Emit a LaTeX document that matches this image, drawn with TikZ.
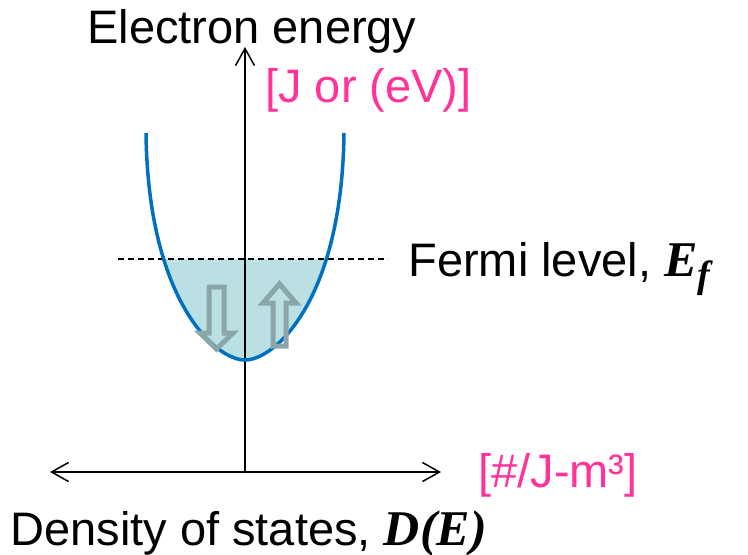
\documentclass[tikz,border=0pt]{standalone}
\usepackage{fontspec}
\setmainfont{Liberation Sans}
\newfontfamily\serifbi{Liberation Serif}
\usetikzlibrary{arrows.meta}
\definecolor{unitpink}{RGB}{255,51,153}
\definecolor{bandblue}{RGB}{0,112,192}
\definecolor{seateal}{RGB}{187,224,227}
\definecolor{spingray}{RGB}{138,166,168}
\newcommand{\bfit}[1]{{\serifbi\fontsize{25}{28}\selectfont\bfseries\itshape #1}}
\tikzset{
    lbl/.style={font=\fontsize{23.5}{28}\selectfont, inner sep=0pt, anchor=base west},
    unit/.style={lbl, text=unitpink},
    spin/.style={draw=spingray, line width=2.5pt, line join=miter},
    axis/.style={line width=0.75pt, {Straight Barb[length=8.5pt,width=9.5pt]}-{Straight Barb[length=8.5pt,width=9.5pt]}},
}
\begin{document}
\begin{tikzpicture}[x=0.5pt,y=-0.5pt]
        \useasboundingbox (0,0) rectangle (748,554);
        \coordinate (origin) at (245,472);
        \coordinate (etop) at (245,47);
        \coordinate (dleft) at (50,472);
        \coordinate (dright) at (441,472);
        \coordinate (fleft) at (118,259);
        \coordinate (fright) at (388,259);
        \begin{scope}
            \clip (100,259) rectangle (400,400);
            \fill [seateal] (146,133) .. controls (148,300) and (215,360) .. (245,360)
                .. controls (275,360) and (342,300) .. (344,133);
        \end{scope}
        \draw [line width=0.75pt, dash pattern=on 3pt off 2pt] (fleft) -- (fright);
        \draw [axis, {Straight Barb[length=8.5pt,width=9.5pt]}-] (etop) -- (origin);
        \draw [axis] (dleft) -- (dright);
        \draw [bandblue, line width=1.75pt] (146,133) .. controls (148,300) and (215,360) .. (245,360)
            .. controls (275,360) and (342,300) .. (344,133);
        \draw [spin] (209,287) -- (224,287) -- (224,333) -- (233,333) -- (216.5,349)
            -- (200,333) -- (209,333) -- cycle;
        \draw [spin] (273,346) -- (286,346) -- (286,303) -- (296,303) -- (279.5,284)
            -- (263,303) -- (273,303) -- cycle;
        \node [lbl] (energy) at (87,43) {Electron energy};
        \node [unit] (eunit) at (265,102) {[J or (eV)]};
        \node [lbl] (fermi) at (408,276) {Fermi level, \bfit{E}\raisebox{-0.45ex}{\bfit{\fontsize{19}{22}\selectfont f}}};
        \node [unit] (dunit) at (478,487) {[\#/J-m³]};
        \node [lbl] (dos) at (10,545) {Density of states, \bfit{D(E)}};
\end{tikzpicture}
\end{document}
